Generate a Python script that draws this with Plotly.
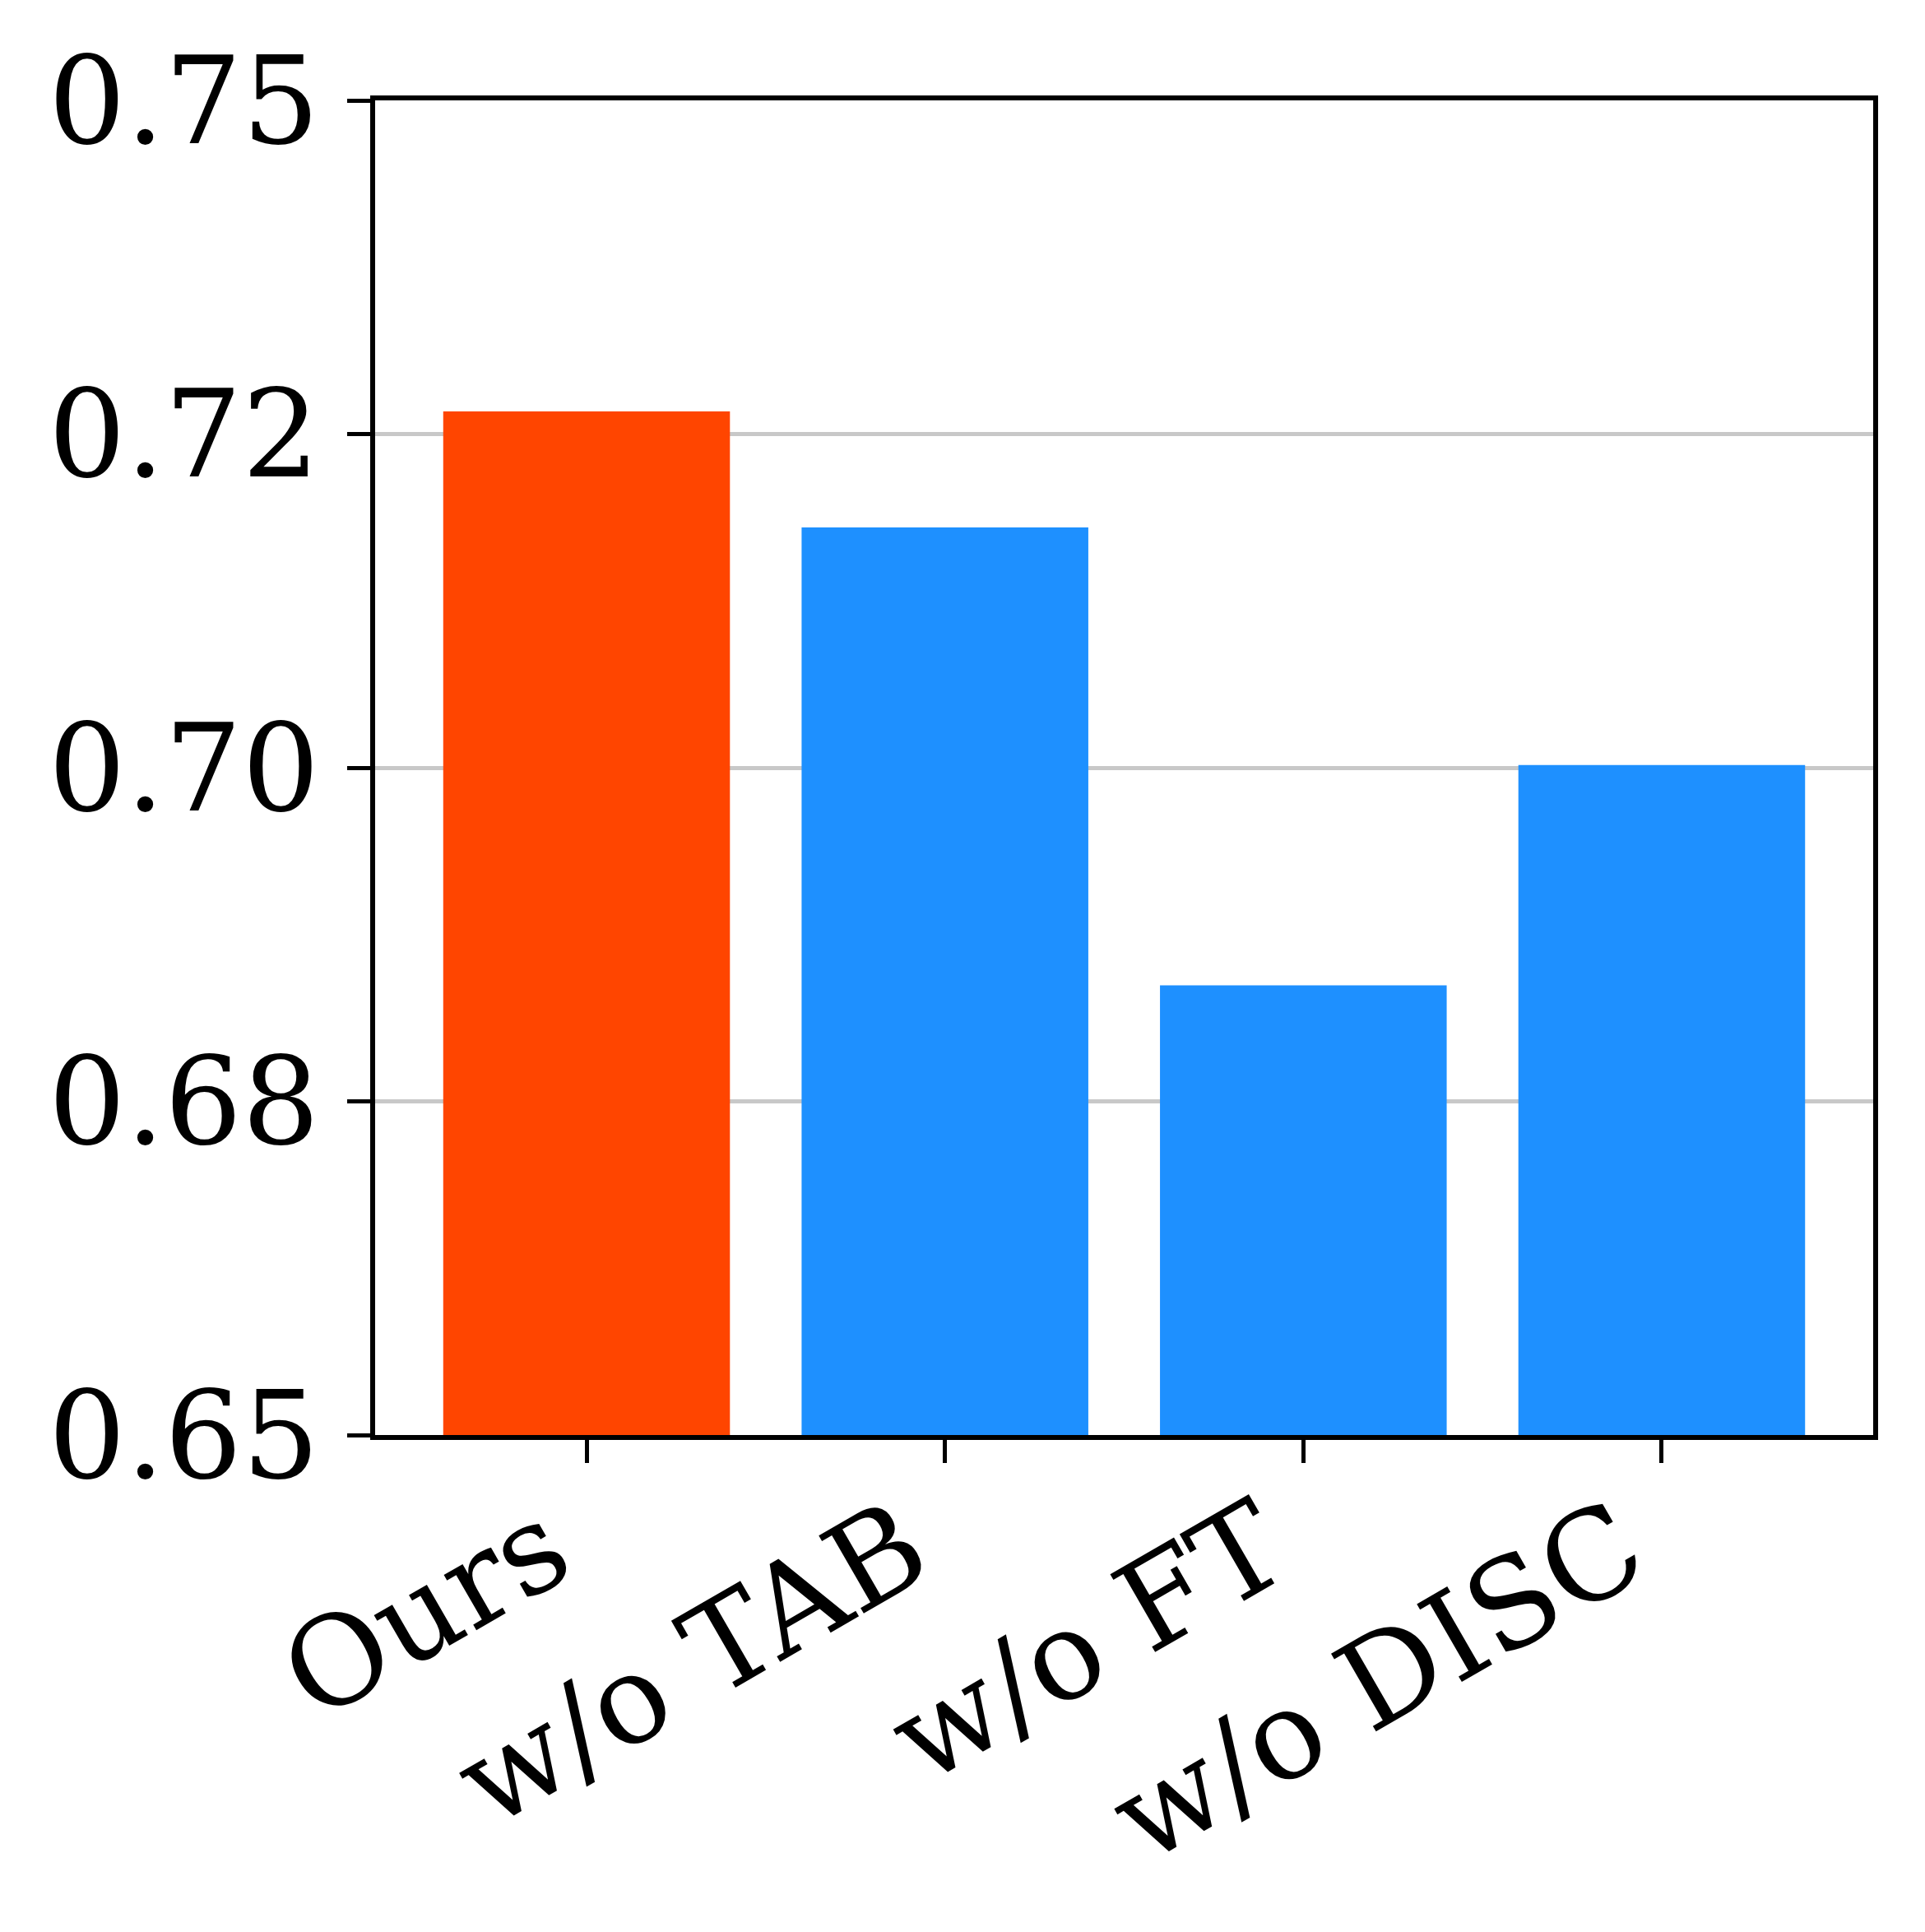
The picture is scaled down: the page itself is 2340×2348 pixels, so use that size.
import plotly.graph_objects as go

categories = ["Ours", "w/o TAB", "w/o FT", "w/o DISC"]
values = [0.7267, 0.7180, 0.6837, 0.7002]
bar_colors = ["#FF4500", "#1E90FF", "#1E90FF", "#1E90FF"]
y_tickvals = [0.65, 0.675, 0.70, 0.725, 0.75]
y_ticktext = ["0.65", "0.68", "0.70", "0.72", "0.75"]

W, H = 2340, 2348
fig = go.Figure(go.Bar(x=categories, y=values, marker=dict(color=bar_colors, line=dict(width=0)),
                       width=0.8))
font = "DejaVu Serif"
fig.update_layout(
    width=W, height=H,
    margin=dict(l=448, r=71, t=114, b=612, autoexpand=False),
    paper_bgcolor="white", plot_bgcolor="white",
    font=dict(family=font, size=146, color="black"),
    showlegend=False,
    bargap=0.2,
)
fig.update_xaxes(
    range=[-0.59, 3.59], showline=True, linecolor="black", linewidth=6, mirror=True,
    ticks="outside", ticklen=28, tickwidth=5, tickcolor="black",
    tickangle=-30, tickfont=dict(family=font, size=150), showgrid=False,
    ticklabelshift=-48, ticklabelstandoff=-38,
)
fig.update_yaxes(
    range=[0.65, 0.75], tickvals=y_tickvals, ticktext=y_ticktext,
    showline=True, linecolor="black", linewidth=6, mirror=True,
    ticks="outside", ticklen=28, tickwidth=5, tickcolor="black",
    ticklabelstandoff=4,
    showgrid=True, gridcolor="#c8c8c8", gridwidth=5, zeroline=False,
    tickfont=dict(family=font, size=148),
)
fig.write_html("out.html")
